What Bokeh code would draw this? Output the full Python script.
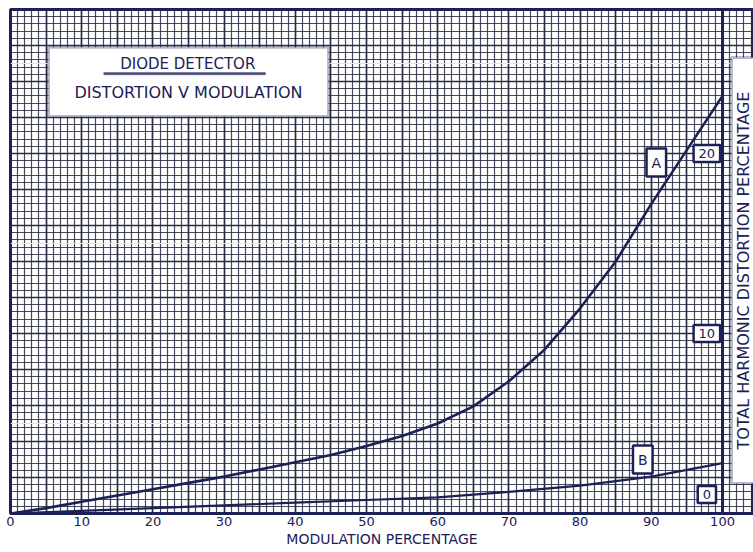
from math import pi
from bokeh.plotting import figure
from bokeh.models import (Range1d, SingleIntervalTicker, Grid, Label, BoxAnnotation, Span)
from bokeh.embed import file_html
from bokeh.resources import INLINE

# ---- data ----
modulation_A = [0, 5, 10, 15, 20, 25, 30, 35, 40, 45, 50, 55, 60, 65, 70, 75, 80, 85, 90, 95, 100]
distortion_A = [0, 0.3, 0.65, 1.0, 1.35, 1.7, 2.05, 2.45, 2.85, 3.25, 3.75, 4.3, 5.0, 5.95, 7.35, 9.1, 11.4, 14.0, 17.2, 20.2, 23.2]
modulation_B = [0, 10, 20, 30, 40, 50, 60, 70, 80, 90, 100]
distortion_B = [0, 0.15, 0.3, 0.45, 0.6, 0.75, 0.9, 1.2, 1.55, 2.05, 2.8]
x_ticks = [0, 10, 20, 30, 40, 50, 60, 70, 80, 90, 100]
y_ticks = [0, 10, 20]
title_line1 = "DIODE DETECTOR"
title_line2 = "DISTORTION V MODULATION"
x_title = "MODULATION PERCENTAGE"
y_title = "TOTAL HARMONIC DISTORTION PERCENTAGE"

NAVY = "#1b2156"
GRID = "#262a40"
FONT = "DejaVu Sans"

p = figure(width=753, height=552, output_backend="svg", toolbar_location=None,
           x_range=Range1d(0, 104.35), y_range=Range1d(0, 28.0),
           y_axis_location=None,
           min_border_left=10, min_border_right=0, min_border_top=9, min_border_bottom=39,
           background_fill_color="white", border_fill_color="white")

p.outline_line_color = NAVY
p.outline_line_width = 3

# graph-paper grid
p.xgrid.ticker = SingleIntervalTicker(interval=5, num_minor_ticks=5)
p.xgrid.grid_line_color = GRID
p.xgrid.grid_line_width = 1.6
p.xgrid.grid_line_alpha = 0.95
p.xgrid.minor_grid_line_color = GRID
p.xgrid.minor_grid_line_width = 1.2
p.xgrid.minor_grid_line_alpha = 0.85
yg = Grid(dimension=1, ticker=SingleIntervalTicker(interval=2, num_minor_ticks=5),
          grid_line_color=GRID, grid_line_width=1.6, grid_line_alpha=0.95,
          minor_grid_line_color=GRID, minor_grid_line_width=1.2, minor_grid_line_alpha=0.85)
p.add_layout(yg)

# x axis
ax = p.xaxis[0]
ax.ticker = x_ticks
ax.axis_line_color = NAVY
ax.axis_line_width = 3
ax.major_tick_out = 0
ax.major_tick_in = 0
ax.minor_tick_out = 0
ax.major_label_standoff = 3
ax.major_label_text_font = FONT
ax.major_label_text_font_size = "13px"
ax.major_label_text_color = NAVY
ax.axis_label = x_title
ax.axis_label_standoff = 2
ax.axis_label_text_font = FONT
ax.axis_label_text_font_style = "normal"
ax.axis_label_text_font_size = "14px"
ax.axis_label_text_color = NAVY

# 100% line
p.add_layout(Span(location=100, dimension="height", line_color=NAVY, line_width=3))

# curves
p.line(modulation_A, distortion_A, line_color=NAVY, line_width=2.6, line_join="round")
p.line(modulation_B, distortion_B, line_color=NAVY, line_width=2.2, line_join="round")

box_style = dict(border_line_color=NAVY, border_line_width=2.5, background_fill_color="white",
                 text_color=NAVY, text_font=FONT, text_align="center", text_baseline="middle")

# y tick labels (boxed, inside the plot)
for t in y_ticks:
    p.add_layout(Label(x=97.8, y=t, text=str(t), text_font_size="13px",
                       padding=dict(left=5, right=5, top=4, bottom=4),
                       y_offset=19 if t == 0 else 0, **box_style))

# curve labels
pad_ab = dict(left=5, right=5, top=6, bottom=6)
p.add_layout(Label(x=90.7, y=19.5, text="A", text_font_size="14px", padding=pad_ab, **box_style))
p.add_layout(Label(x=88.8, y=3.0, text="B", text_font_size="14px", padding=pad_ab, **box_style))

# title box
p.add_layout(BoxAnnotation(left=5.34, right=44.66, bottom=22.06, top=25.9,
                           fill_color="white", fill_alpha=1, line_color=NAVY, line_width=3))
p.add_layout(Label(x=24.9, y=25.0, text=title_line1, text_font_size="15px",
                   text_font=FONT, text_color=NAVY, text_align="center", text_baseline="middle"))
p.add_layout(BoxAnnotation(left=13.1, right=35.8, bottom=24.37, top=24.5,
                           fill_color="#4a4f72", fill_alpha=1, line_color=NAVY, line_width=1))
p.add_layout(Label(x=25.0, y=23.4, text=title_line2, text_font_size="16px",
                   text_font=FONT, text_color=NAVY, text_align="center", text_baseline="middle"))

# right-hand rotated axis title box
p.add_layout(BoxAnnotation(left=101.26, right=106, bottom=1.67, top=25.33,
                           fill_color="white", fill_alpha=1, line_color=NAVY, line_width=3))
p.add_layout(Label(x=102.9, y=13.5, text=y_title, angle=pi / 2, text_font_size="16px",
                   text_font=FONT, text_color=NAVY, text_align="center", text_baseline="middle"))

open("out.html", "w").write(file_html(p, INLINE))
